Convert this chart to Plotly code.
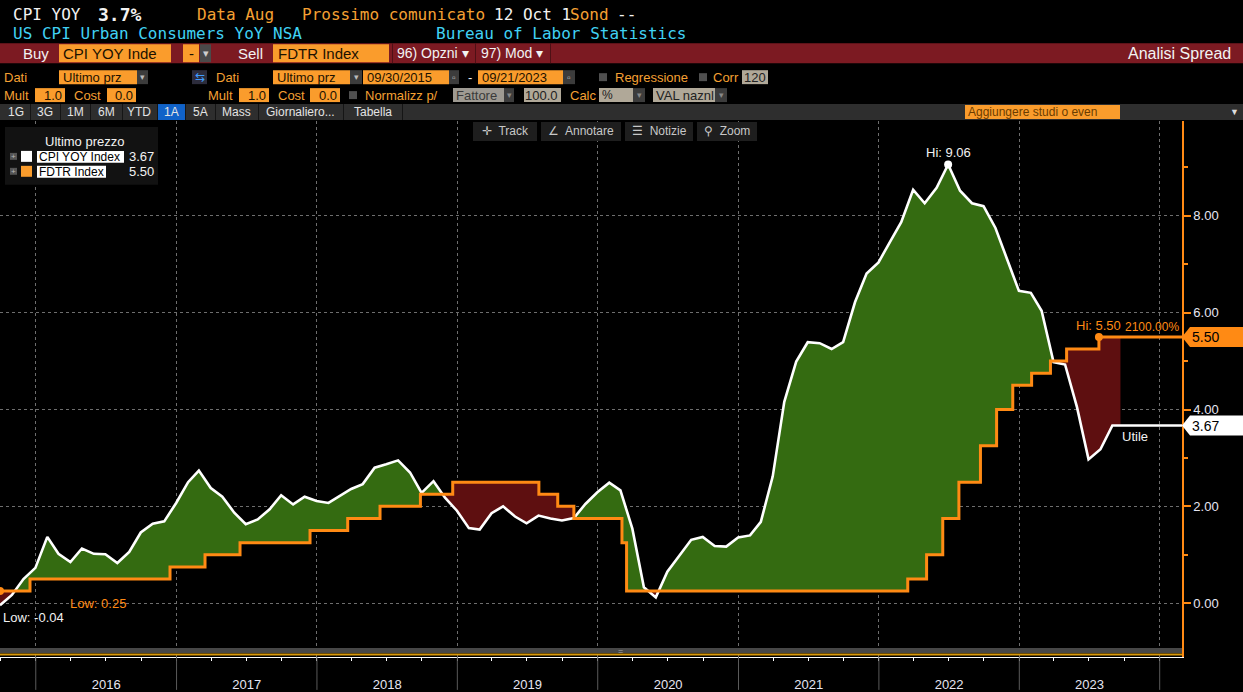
import numpy as np
import pandas as pd
import plotly.graph_objects as go

# ---------------- data ----------------
CPI_FIRST_MONTH = "2015-09"
CPI_YOY = [
    -0.04, 0.17, 0.50, 0.73,
    1.37, 1.02, 0.85, 1.13, 1.02, 1.01, 0.83, 1.06, 1.46, 1.64, 1.69, 2.07,
    2.50, 2.74, 2.38, 2.20, 1.87, 1.63, 1.73, 1.94, 2.23, 2.04, 2.20, 2.11,
    2.07, 2.21, 2.36, 2.46, 2.80, 2.87, 2.95, 2.70, 2.28, 2.52, 2.18, 1.91,
    1.55, 1.52, 1.86, 2.00, 1.79, 1.65, 1.81, 1.75, 1.71, 1.76, 2.05, 2.29,
    2.49, 2.33, 1.54, 0.33, 0.12, 0.65, 0.99, 1.31, 1.37, 1.18, 1.17, 1.36,
    1.40, 1.68, 2.62, 4.16, 4.99, 5.39, 5.37, 5.25, 5.39, 6.22, 6.81, 7.04,
    7.48, 7.87, 8.54, 8.26, 8.58, 9.06, 8.52, 8.26, 8.20, 7.75, 7.11, 6.45,
    6.41, 6.04, 4.98, 4.93, 4.05, 2.97, 3.18, 3.67,
]
FDTR_DATES = [
    "2015-09-30", "2015-12-17", "2016-12-15", "2017-03-16", "2017-06-15",
    "2017-12-14", "2018-03-22", "2018-06-14", "2018-09-27", "2018-12-20",
    "2019-08-01", "2019-09-19", "2019-10-31", "2020-03-04", "2020-03-16",
    "2022-03-17", "2022-05-05", "2022-06-16", "2022-07-28", "2022-09-22",
    "2022-11-03", "2022-12-15", "2023-02-02", "2023-03-23", "2023-05-04",
    "2023-07-27",
]
FDTR_VALUES = [
    0.25, 0.50, 0.75, 1.00, 1.25, 1.50, 1.75, 2.00, 2.25, 2.50,
    2.25, 2.00, 1.75, 1.25, 0.25, 0.50, 1.00, 1.75, 2.50, 3.25,
    4.00, 4.50, 4.75, 5.00, 5.25, 5.50,
]
START_DATE = "2015-09-30"
END_DATE = "2023-09-21"
Y_TICKS = [0, 2, 4, 6, 8]
Y_MINOR = [1, 3, 5, 7, 9]
CPI_NAME = "CPI YOY Index"
FDTR_NAME = "FDTR Index"

# ---------------- layout geometry ----------------
W, H = 1243, 692
ML, MR, MT, MB = 0, 61, 121, 33
PW, PH = W - ML - MR, H - MT - MB
X_RANGE = ["2015-09-30", "2024-02-28"]
Y_RANGE = [-1.111, 9.959]

FONT = "Liberation Sans, Arial, sans-serif"
MONO = "DejaVu Sans Mono, Liberation Mono, monospace"
AMBER = "#f5a033"
BOXOR = "#fa9c2c"
CYAN = "#40d2f4"
WHITE = "#f2f2f2"
TICKC = "#e6e6f2"
LINE_OR = "#ff8a14"
GREEN_FILL = "#346b11"
RED_FILL = "#5e0f10"
GRID = "#6e6e6e"

# ---------------- series prep ----------------
EPOCH = pd.Timestamp("1970-01-01")


def to_days(d):
    return np.asarray((pd.to_datetime(d) - EPOCH) / pd.Timedelta(days=1), dtype=float)


def to_str(t):
    return (EPOCH + pd.to_timedelta(float(t), unit="D")).strftime("%Y-%m-%d %H:%M:%S")


cpi_dates = pd.date_range(CPI_FIRST_MONTH + "-01", periods=len(CPI_YOY), freq="MS") + pd.offsets.MonthEnd(0)
cpi_x = [d.strftime("%Y-%m-%d") for d in cpi_dates]

tc = np.append(to_days(cpi_dates), to_days([END_DATE])[0])
vc = np.array(CPI_YOY + [CPI_YOY[-1]], dtype=float)
tf = to_days(FDTR_DATES)
vf = np.array(FDTR_VALUES, dtype=float)


def f_at(t):
    return vf[np.searchsorted(tf, t, side="right") - 1]


def c_at(t):
    return float(np.interp(t, tc, vc))


bp = np.unique(np.concatenate([tc, tf[(tf > tc[0]) & (tf < tc[-1])]]))
subs = []
for a, b in zip(bp[:-1], bp[1:]):
    f = f_at(a)
    ca, cb = c_at(a), c_at(b)
    da, db = ca - f, cb - f
    pieces = [(a, b, ca, cb)]
    if da * db < 0:
        r = a + (b - a) * da / (da - db)
        cr = c_at(r)
        pieces = [(a, r, ca, cr), (r, b, cr, cb)]
    for x0, x1, c0, c1 in pieces:
        s = (c0 + c1) / 2 - f
        if abs(s) < 1e-12:
            continue
        subs.append((x0, x1, c0, c1, f, 1 if s > 0 else -1))

runs = []
for s in subs:
    if runs and runs[-1][0][5] == s[5] and abs(runs[-1][-1][1] - s[0]) < 1e-9:
        runs[-1].append(s)
    else:
        runs.append([s])

poly = {1: ([], []), -1: ([], [])}
for run in runs:
    xs = [run[0][0]] + [s[1] for s in run]
    ys = [run[0][2]] + [s[3] for s in run]
    for s in reversed(run):
        xs += [s[1], s[0]]
        ys += [s[4], s[4]]
    xs.append(run[0][0])
    ys.append(run[0][2])
    px_, py_ = poly[run[0][5]]
    px_ += [to_str(t) for t in xs] + [None]
    py_ += ys + [None]

# ---------------- figure ----------------
fig = go.Figure()
fig.add_trace(go.Scatter(x=poly[1][0], y=poly[1][1], fill="toself", fillcolor=GREEN_FILL,
                         mode="none", hoverinfo="skip", showlegend=False))
fig.add_trace(go.Scatter(x=poly[-1][0], y=poly[-1][1], fill="toself", fillcolor=RED_FILL,
                         mode="none", hoverinfo="skip", showlegend=False))

fig.add_trace(go.Scatter(x=cpi_x + [END_DATE, X_RANGE[1]], y=CPI_YOY + [CPI_YOY[-1]] * 2,
                         mode="lines", line=dict(color="white", width=2.6), showlegend=False,
                         name=CPI_NAME))
fig.add_trace(go.Scatter(x=FDTR_DATES + [X_RANGE[1]], y=FDTR_VALUES + [FDTR_VALUES[-1]],
                         mode="lines", line=dict(color=LINE_OR, width=3, shape="hv"),
                         showlegend=False, name=FDTR_NAME))

i_cmax = int(np.argmax(CPI_YOY))
i_cmin = int(np.argmin(CPI_YOY))
i_fmax = int(np.argmax(FDTR_VALUES))
i_fmin = int(np.argmin(FDTR_VALUES))
fig.add_trace(go.Scatter(x=[cpi_x[i_cmax]], y=[CPI_YOY[i_cmax]], mode="markers",
                         marker=dict(color="white", size=8), showlegend=False))
fig.add_trace(go.Scatter(x=[FDTR_DATES[i_fmax], FDTR_DATES[i_fmin]],
                         y=[FDTR_VALUES[i_fmax], FDTR_VALUES[i_fmin]], mode="markers",
                         marker=dict(color=LINE_OR, size=8), showlegend=False))

shapes = []
annos = []


def px(x):
    return (x - ML) / PW


def py(y):
    return 1 - (y - MT) / PH


def rect(x0, y0, x1, y1, color):
    shapes.append(dict(type="rect", xref="paper", yref="paper", x0=px(x0), x1=px(x1),
                       y0=py(y1), y1=py(y0), fillcolor=color, line=dict(width=0), layer="above"))


def text(x, y, s, color, size=13, anchor="left", bold=False, family=FONT):
    annos.append(dict(xref="paper", yref="paper", x=px(x), y=py(y),
                      text=("<b>%s</b>" % s if bold else s), showarrow=False,
                      xanchor=anchor, yanchor="middle", borderpad=0,
                      font=dict(color=color, size=size, family=family)))


# row 1
text(12, 14, "CPI YOY", WHITE, 16, family=MONO)
text(97, 14, "3.7%", WHITE, 18, bold=True, family=MONO)
text(196, 14, "Data Aug", AMBER, 16, family=MONO)
text(301, 14, "Prossimo comunicato", AMBER, 16, family=MONO)
text(493, 14, "12 Oct 1", WHITE, 16, family=MONO)
text(569, 14, "Sond", AMBER, 16, family=MONO)
text(616, 14, "--", WHITE, 16, family=MONO)
# row 2
text(12, 33, "US CPI Urban Consumers YoY NSA", CYAN, 16, family=MONO)
text(435, 33, "Bureau of Labor Statistics", CYAN, 16, family=MONO)
# row 3: red bar
rect(0, 43, W, 63, "#7c1a22")
text(22, 53, "Buy", WHITE, 15)
rect(59, 44, 171, 62, BOXOR)
text(62, 53, "CPI YOY Inde", "#1c1200", 15)
rect(183, 44, 199, 62, BOXOR)
text(191, 53, "-", "#1c1200", 15, anchor="center")
rect(200, 44, 211, 62, "#4a4a4a")
text(205.5, 53, "▾", "#cfcfcf", 11, anchor="center")
text(237, 53, "Sell", WHITE, 15)
rect(273, 44, 389, 62, BOXOR)
text(277, 53, "FDTR Index", "#1c1200", 15)
rect(392, 43, 393, 63, "#4e1015")
text(396, 53, "96) Opzni ▾", WHITE, 14)
rect(475, 43, 476, 63, "#4e1015")
text(480, 53, "97) Mod ▾", WHITE, 14)
rect(550, 43, 551, 63, "#4e1015")
text(1232, 53, "Analisi Spread", WHITE, 16, anchor="right")
# row 4
RY4, RY5 = 77, 95
text(3, RY4, "Dati", AMBER, 13)
rect(59, 70, 137, 84, BOXOR)
text(62, RY4, "Ultimo prz", "#1c1200", 13)
rect(137, 70, 148, 84, "#3c3c3c")
text(142.5, RY4, "▾", "#bbbbbb", 9, anchor="center")
rect(192, 70, 207, 84, "#2c2c3c")
text(199.5, RY4, "⇆", "#3f9cff", 12, anchor="center")
text(215, RY4, "Dati", AMBER, 13)
rect(273, 70, 350, 84, BOXOR)
text(276, RY4, "Ultimo prz", "#1c1200", 13)
rect(350, 70, 362, 84, "#3c3c3c")
text(356, RY4, "▾", "#bbbbbb", 9, anchor="center")
rect(363, 70, 449, 84, BOXOR)
text(366, RY4, "09/30/2015", "#1c1200", 13)
rect(449, 70, 459, 84, "#3c3c3c")
text(454, RY4, "▫", "#cccccc", 10, anchor="center")
text(470, RY4, "-", WHITE, 13, anchor="center")
rect(478, 70, 563, 84, BOXOR)
text(481, RY4, "09/21/2023", "#1c1200", 13)
rect(563, 70, 575, 84, "#3c3c3c")
text(569, RY4, "▫", "#cccccc", 10, anchor="center")
rect(599, 73, 607, 81, "#505050")
text(614, RY4, "Regressione", AMBER, 13)
rect(699, 73, 707, 81, "#505050")
text(712, RY4, "Corr", AMBER, 13)
rect(742, 70, 768, 84, "#b0a898")
text(755, RY4, "120", "#222222", 13, anchor="center")
# row 5
text(3, RY5, "Mult", AMBER, 13)
rect(35, 88, 65, 102, BOXOR)
text(63, RY5, "1.0", "#1c1200", 13, anchor="right")
text(73, RY5, "Cost", AMBER, 13)
rect(107, 88, 136, 102, BOXOR)
text(134, RY5, "0.0", "#1c1200", 13, anchor="right")
text(207, RY5, "Mult", AMBER, 13)
rect(239, 88, 269, 102, BOXOR)
text(267, RY5, "1.0", "#1c1200", 13, anchor="right")
text(277, RY5, "Cost", AMBER, 13)
rect(310, 88, 340, 102, BOXOR)
text(338, RY5, "0.0", "#1c1200", 13, anchor="right")
rect(349, 91, 357, 99, "#505050")
text(364, RY5, "Normalizz p/", AMBER, 13)
rect(453, 88, 504, 102, "#9e9a92")
text(455, RY5, "Fattore", "#3a3a3a", 13)
rect(504, 88, 514, 102, "#3c3c3c")
text(509, RY5, "▾", "#888888", 9, anchor="center")
rect(524, 88, 561, 102, "#b0a898")
text(559, RY5, "100.0", "#222222", 13, anchor="right")
text(569, RY5, "Calc", AMBER, 13)
rect(599, 88, 633, 102, "#b0a898")
text(601, RY5, "%", "#222222", 12)
rect(633, 88, 645, 102, "#3c3c3c")
text(639, RY5, "▾", "#888888", 9, anchor="center")
rect(653, 88, 715, 102, "#b0a898")
text(655, RY5, "VAL naznl", "#222222", 13)
rect(715, 88, 727, 102, "#3c3c3c")
text(721, RY5, "▾", "#888888", 9, anchor="center")
# row 6: tab bar
rect(0, 104, W, 120, "#2e2e2e")
for sx in [30, 60, 90, 122, 157, 185, 215, 258, 343, 402]:
    rect(sx, 104, sx + 1, 120, "#151515")
rect(158, 104, 185, 120, "#1062c8")
for cx, lab in [(16, "1G"), (45, "3G"), (75, "1M"), (106, "6M"), (139, "YTD"), (171, "1A"),
                (200, "5A"), (236, "Mass"), (300, "Giornaliero..."), (373, "Tabella")]:
    text(cx, 112, lab, "#e4e4e4", 12, anchor="center")
rect(965, 105, 1120, 119, BOXOR)
text(967, 112, "Aggiungere studi o even", "#6a3c00", 12)
text(1234, 112, "▼", "#dddddd", 9, anchor="center")

# toolbar in plot
for x0, x1, lab in [(473, 537, "✛  Track"), (541, 621, "∠  Annotare"),
                    (625, 693, "☰  Notizie"), (697, 757, "⚲  Zoom")]:
    rect(x0, 122, x1, 141, "#1e1e1e")
    text((x0 + x1) / 2, 131.5, lab, "#c8c8c8", 12, anchor="center")

# legend box
rect(5, 127, 158, 185, "#121212")
text(44, 142, "Ultimo prezzo", WHITE, 13)
for yy, col, name, val, bw in [(157, "white", CPI_NAME, CPI_YOY[-1], 87),
                               (172, BOXOR, FDTR_NAME, FDTR_VALUES[-1], 69)]:
    rect(10, yy - 4, 17, yy + 3, "#555555")
    text(13.5, yy - 0.5, "+", "#bbbbbb", 8, anchor="center")
    rect(21, yy - 6, 32, yy + 5, col)
    rect(37, yy - 6, 37 + bw, yy + 6, "white")
    text(38, yy, name, "#000000", 12)
    text(128, yy, "%.2f" % val, WHITE, 13)

# bottom navigator strip
rect(0, 650, PW, 655, "#474747")
rect(0, 655.5, PW, 657.5, "#d8980a")
text(620, 652.5, "=", "#aaaaaa", 9, anchor="center")

# year separators below the axis
years = range(pd.Timestamp(X_RANGE[0]).year + 1, pd.Timestamp(X_RANGE[1]).year + 1)
for yv in years:
    shapes.append(dict(type="line", xref="x", yref="paper", x0="%d-01-01" % yv, x1="%d-01-01" % yv,
                       y0=py(H), y1=py(MT + PH), line=dict(color="#5a5a5a", width=1), layer="above"))

# data annotations
annos.append(dict(x=cpi_x[i_cmax], y=CPI_YOY[i_cmax], text="Hi: %.2f" % CPI_YOY[i_cmax],
                  showarrow=False, xanchor="center", yanchor="bottom", yshift=3,
                  font=dict(color=WHITE, size=13, family=FONT)))
annos.append(dict(x=cpi_x[i_cmin], y=CPI_YOY[i_cmin], text="Low: %.2f" % CPI_YOY[i_cmin],
                  showarrow=False, xanchor="left", yanchor="top", yshift=-3, xshift=1,
                  font=dict(color=WHITE, size=13, family=FONT)))
annos.append(dict(x=FDTR_DATES[i_fmin], y=FDTR_VALUES[i_fmin], text="Low: %.2f" % FDTR_VALUES[i_fmin],
                  showarrow=False, xanchor="left", yanchor="top", yshift=-3, xshift=68,
                  font=dict(color=LINE_OR, size=13, family=FONT)))
annos.append(dict(x=FDTR_DATES[i_fmax], y=FDTR_VALUES[i_fmax], text="Hi: %.2f" % FDTR_VALUES[i_fmax],
                  showarrow=False, xanchor="center", yanchor="bottom", yshift=2,
                  font=dict(color=LINE_OR, size=13, family=FONT)))
chg = (FDTR_VALUES[i_fmax] / FDTR_VALUES[i_fmin] - 1) * 100
annos.append(dict(xref="paper", x=px(1181), y=FDTR_VALUES[-1], text="%.2f%%" % chg,
                  showarrow=False, xanchor="right", yanchor="bottom", yshift=1,
                  font=dict(color=LINE_OR, size=12, family=FONT)))
annos.append(dict(x=END_DATE, y=CPI_YOY[-1], text="Utile", showarrow=False,
                  xanchor="left", yanchor="top", yshift=-1,
                  font=dict(color=WHITE, size=13, family=FONT)))

# last-value tags on the right axis
for val, col in [(FDTR_VALUES[-1], LINE_OR), (CPI_YOY[-1], "white")]:
    shapes.append(dict(type="path", xref="paper", yref="y", xsizemode="pixel", ysizemode="pixel",
                       xanchor=1.0, yanchor=val, path="M0,0 L8,10 L61,10 L61,-10 L8,-10 Z",
                       fillcolor=col, line=dict(width=0), layer="above"))
    annos.append(dict(xref="paper", x=px(1190), y=val, text="%.2f" % val, showarrow=False,
                      xanchor="left", yanchor="middle",
                      font=dict(color="#000000", size=14, family=FONT)))

fig.update_layout(
    width=W, height=H,
    margin=dict(l=ML, r=MR, t=MT, b=MB, pad=0),
    paper_bgcolor="black", plot_bgcolor="black",
    showlegend=False, hovermode=False,
    shapes=shapes, annotations=annos,
    xaxis=dict(type="date", range=X_RANGE, tickmode="linear", tick0="2016-01-01", dtick="M12",
               ticklabelmode="period", tickformat="%Y", ticks="outside", ticklen=3,
               tickcolor="white", showgrid=True, gridcolor=GRID, griddash="dot", gridwidth=1,
               showline=True, linecolor="white", linewidth=1, zeroline=False,
               tickfont=dict(size=13, color=TICKC, family=FONT), ticklabelstandoff=12,
               minor=dict(dtick="M3", tick0="2016-01-01", ticks="outside", ticklen=3,
                          tickcolor="white", showgrid=False)),
    yaxis=dict(side="right", range=Y_RANGE, tickmode="array", tickvals=Y_TICKS, tickformat=".2f",
               ticks="outside", ticklen=7, tickwidth=2, tickcolor=LINE_OR, showline=True,
               linecolor=LINE_OR, linewidth=1.5, showgrid=True, gridcolor=GRID, griddash="dot",
               zeroline=False, tickfont=dict(size=13, color=TICKC, family=FONT),
               minor=dict(tickvals=Y_MINOR, ticks="outside", ticklen=4, tickcolor=LINE_OR,
                          showgrid=False)),
)

fig.write_html("out.html", config={"displayModeBar": False})
